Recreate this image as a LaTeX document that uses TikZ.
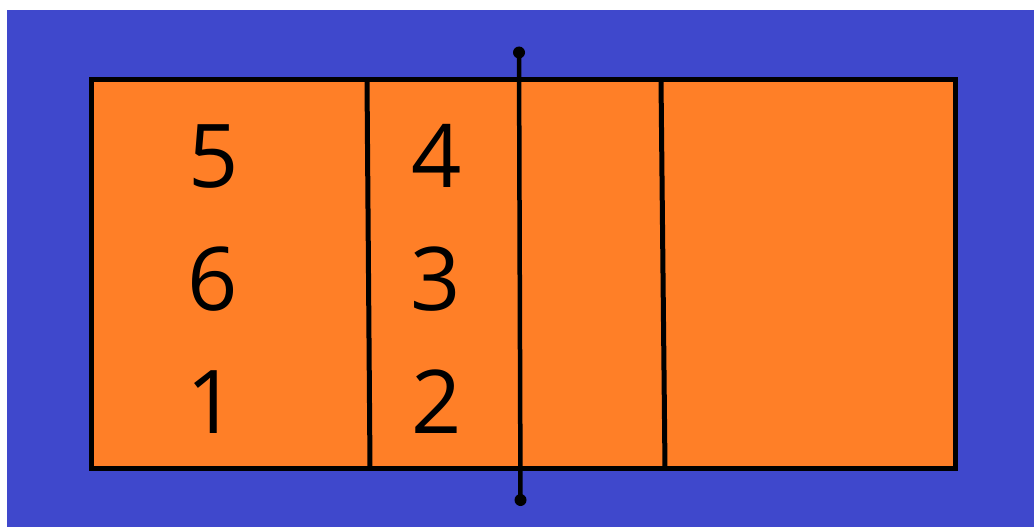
\documentclass[tikz,border=0pt]{standalone}
\usepackage{fontspec}
\setmainfont{Open Sans}
\definecolor{courtblue}{RGB}{63,72,204}
\definecolor{courtorange}{RGB}{255,127,39}
\begin{document}
\begin{tikzpicture}[x=1pt,y=-1pt,
  courtline/.style={draw=black,line width=5pt},
  netline/.style={draw=black,line width=4.5pt},
  posnum/.style={inner sep=0pt,font=\fontsize{88}{88}\selectfont,text=black}]
\useasboundingbox (0,0) rectangle (1034,527);
\fill[white] (0,0) rectangle (1034,527);
\fill[courtblue] (7,10) rectangle (1034,527);
\fill[courtorange,courtline] (91.5,79.5) rectangle (955,468);
\coordinate (a1) at (367,79.5); \coordinate (a2) at (370,468);
\coordinate (b1) at (661,79.5); \coordinate (b2) at (665,468);
\draw[courtline] (a1) -- (a2);
\draw[courtline] (b1) -- (b2);
\coordinate (nt) at (519,52.5); \coordinate (nb) at (520.5,500);
\draw[netline] (nt) -- (nb);
\fill (nt) circle (6);
\fill (nb) circle (6);
\node[posnum] (p5) at (214,157) {5};
\node[posnum] (p6) at (213,279) {6};
\node[posnum] (p1) at (212,402) {1};
\node[posnum] (p4) at (437,156) {4};
\node[posnum] (p3) at (436,279) {3};
\node[posnum] (p2) at (437,402) {2};
\end{tikzpicture}
\end{document}
